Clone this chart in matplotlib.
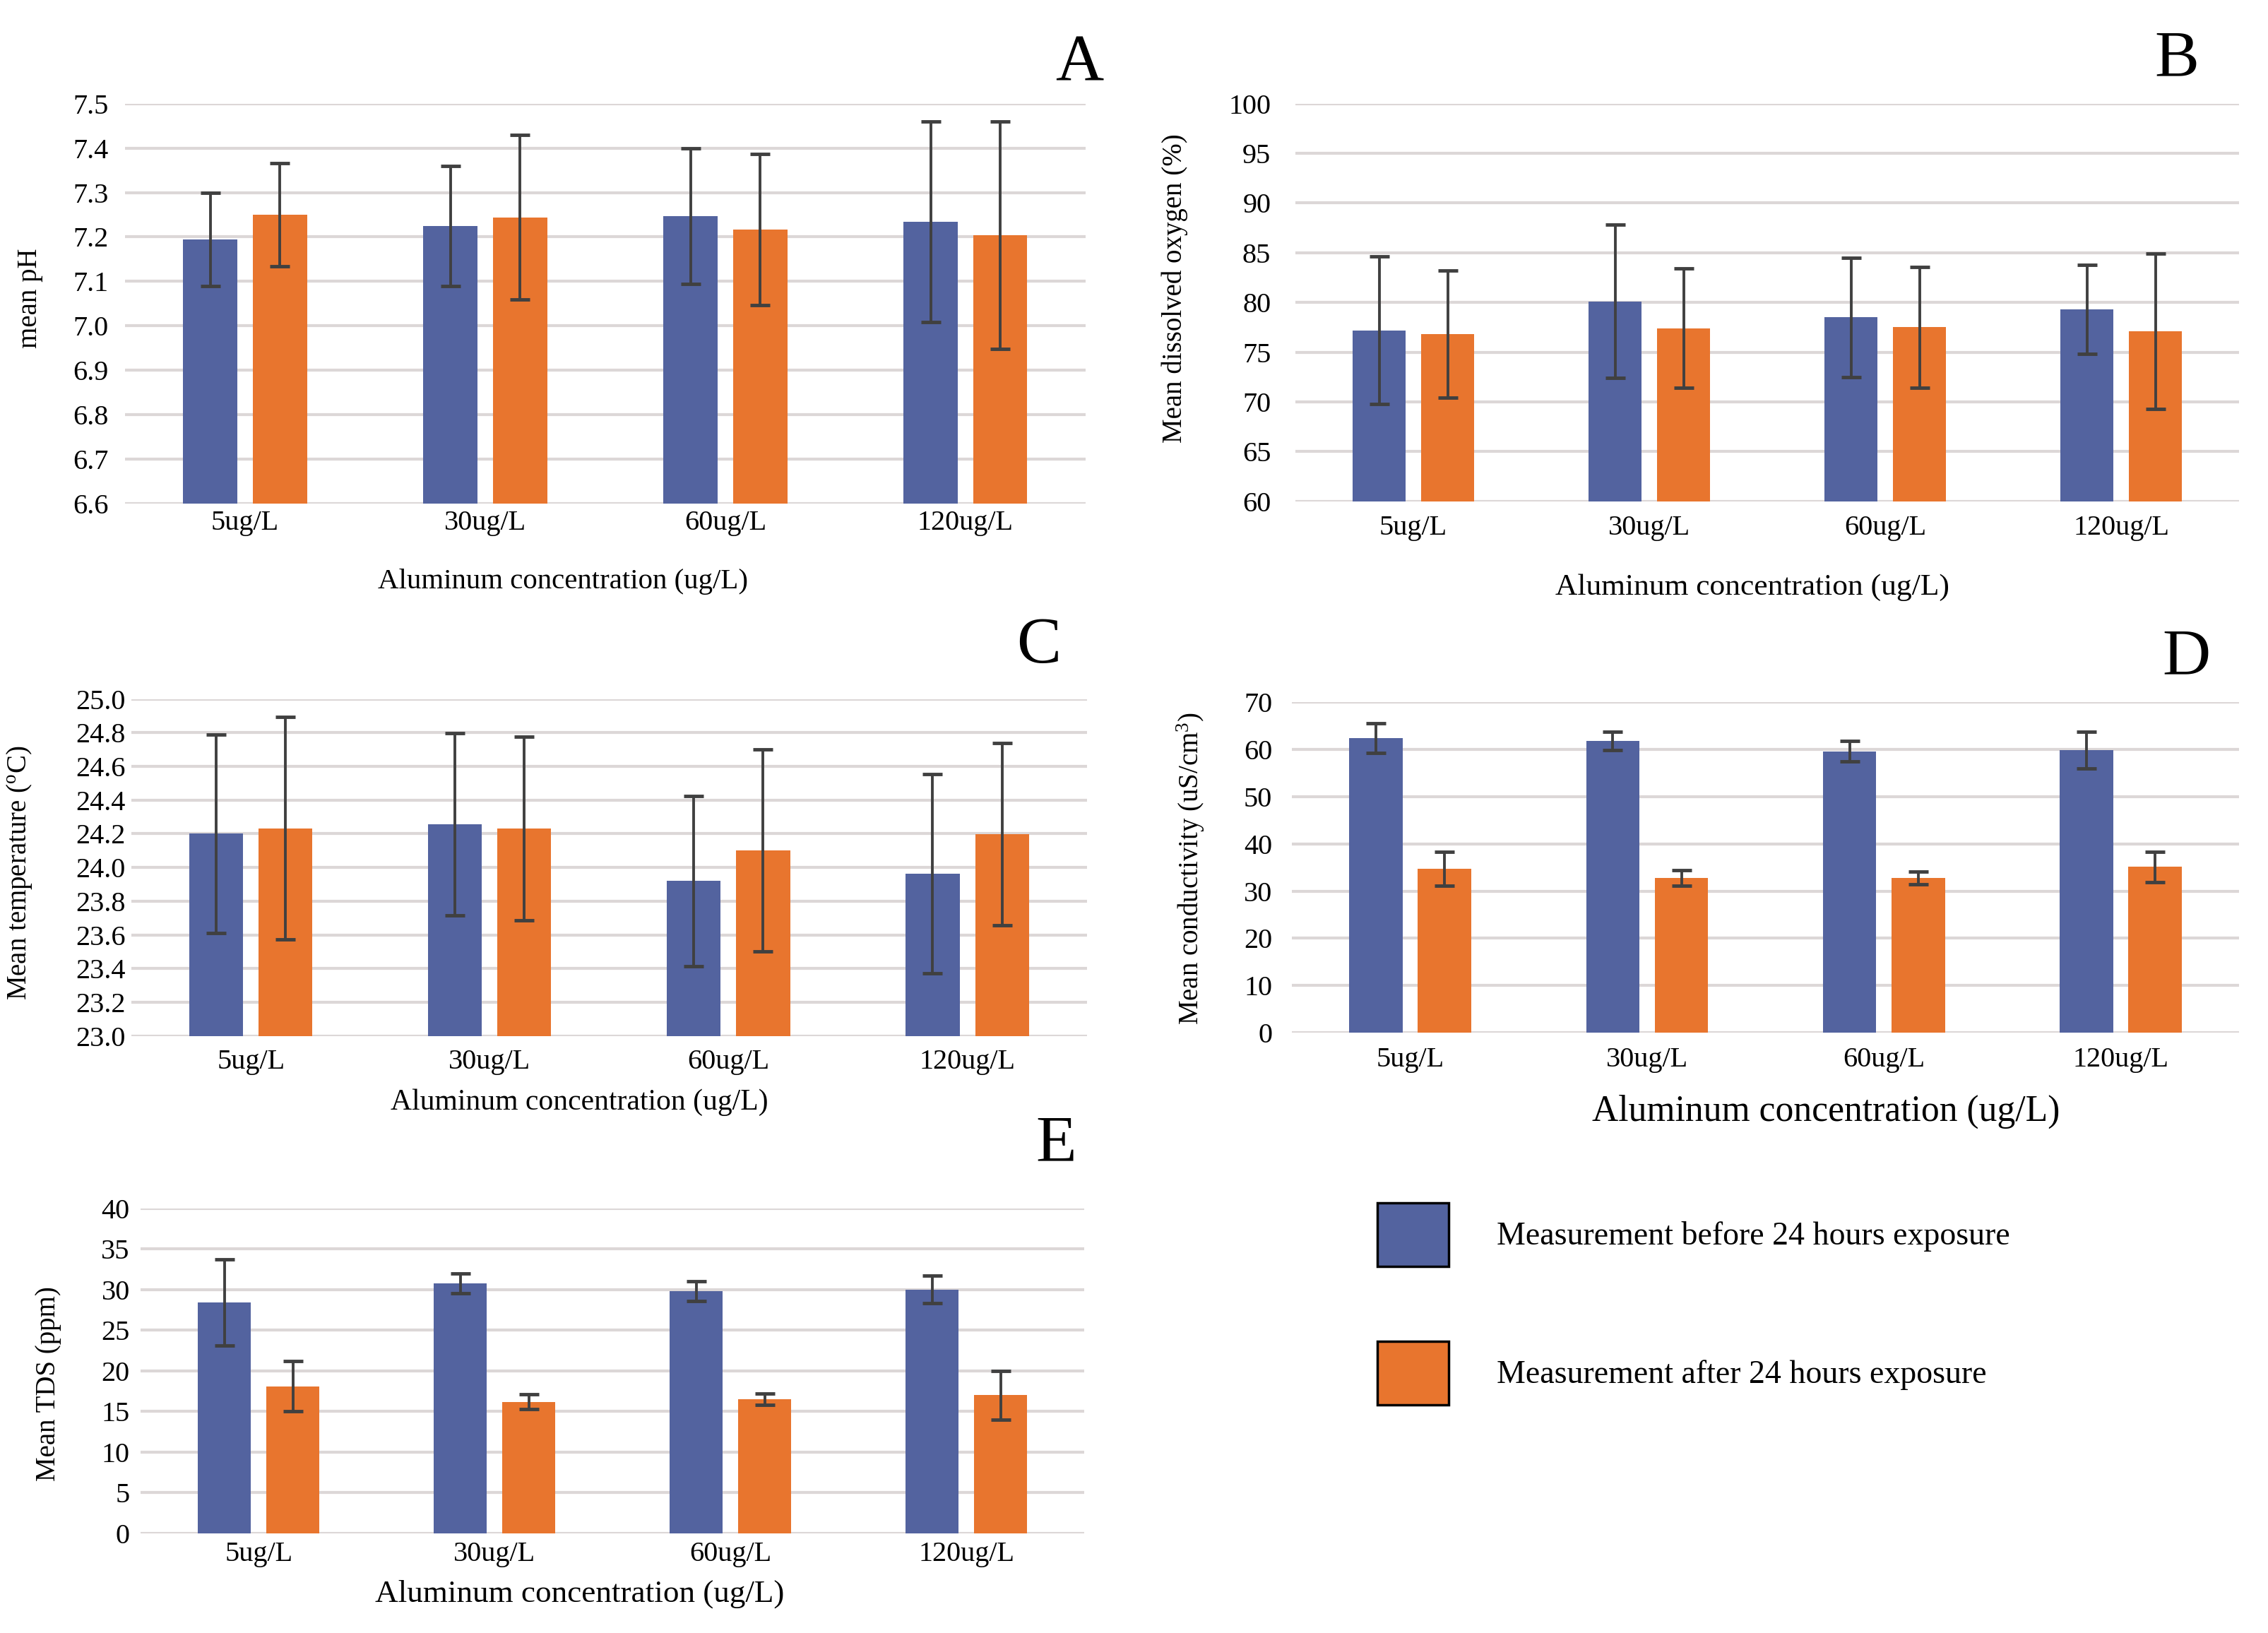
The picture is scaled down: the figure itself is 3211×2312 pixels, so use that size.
import matplotlib
matplotlib.use('Agg')
import matplotlib.pyplot as plt
from matplotlib.patches import Patch
import numpy as np

plt.rcParams['font.family'] = ['Liberation Serif', 'DejaVu Serif']
plt.rcParams['mathtext.fontset'] = 'custom'
plt.rcParams['mathtext.rm'] = 'Liberation Serif'
plt.rcParams['mathtext.it'] = 'Liberation Serif:italic'

# ---------------- data ----------------
categories = ['5ug/L', '30ug/L', '60ug/L', '120ug/L']
series_labels = ['Measurement before 24 hours exposure',
                 'Measurement after 24 hours exposure']
xlabel_text = 'Aluminum concentration (ug/L)'

ph_before = [7.195, 7.224, 7.247, 7.234]
ph_before_err = [0.105, 0.135, 0.153, 0.226]
ph_after = [7.250, 7.244, 7.217, 7.204]
ph_after_err = [0.116, 0.185, 0.170, 0.256]

do_before = [77.2, 80.1, 78.5, 79.3]
do_before_err = [7.4, 7.7, 6.0, 4.5]
do_after = [76.8, 77.4, 77.5, 77.1]
do_after_err = [6.4, 6.0, 6.1, 7.85]

temp_before = [24.200, 24.255, 23.920, 23.963]
temp_before_err = [0.59, 0.54, 0.505, 0.59]
temp_after = [24.233, 24.233, 24.102, 24.198]
temp_after_err = [0.66, 0.545, 0.60, 0.54]

cond_before = [62.4, 61.8, 59.6, 59.9]
cond_before_err = [3.2, 2.0, 2.2, 3.9]
cond_after = [34.7, 32.8, 32.8, 35.1]
cond_after_err = [3.6, 1.6, 1.3, 3.2]

tds_before = [28.4, 30.8, 29.8, 30.0]
tds_before_err = [5.3, 1.2, 1.23, 1.7]
tds_after = [18.1, 16.2, 16.5, 17.0]
tds_after_err = [3.1, 0.93, 0.70, 3.0]

# ---------------- style ----------------
BLUE = '#53639f'
ORANGE = '#e8752e'
ERR = '#404040'
GRID = '#dcd7d7'

fig = plt.figure(figsize=(32.12, 23.12), dpi=100)

panels = [
    dict(letter='A', rect=[0.0551, 0.6918, 0.4234, 0.2447], pos=(0.4757, 0.9511),
         data=(ph_before, ph_before_err, ph_after, ph_after_err),
         ylim=(6.6, 7.5), step=0.1, fmt='{:.1f}', ylabel='mean pH',
         ylab_xy=(-0.085, 0.513), ypad=17, xpad=7, xl_xy=(0.456, -0.164), xl_fs=29.4),
    dict(letter='B', rect=[0.5710, 0.6931, 0.4160, 0.2434], pos=(0.9595, 0.9537),
         data=(do_before, do_before_err, do_after, do_after_err),
         ylim=(60, 100), step=5, fmt='{:.0f}', ylabel='Mean dissolved oxygen (%)',
         ylab_xy=(-0.114, 0.536), ypad=25, xpad=14, xl_xy=(0.484, -0.182), xl_fs=31.3),
    dict(letter='C', rect=[0.0580, 0.3656, 0.4210, 0.2064], pos=(0.4577, 0.5943),
         data=(temp_before, temp_before_err, temp_after, temp_after_err),
         ylim=(23.0, 25.0), step=0.2, fmt='{:.1f}',
         ylabel='Mean temperature ($^{\\mathrm{o}}$C)',
         ylab_xy=(-0.102, 0.484), ypad=6, xpad=13, xl_xy=(0.469, -0.156), xl_fs=30),
    dict(letter='D', rect=[0.5694, 0.3676, 0.4176, 0.2024], pos=(0.9636, 0.5870),
         data=(cond_before, cond_before_err, cond_after, cond_after_err),
         ylim=(0, 70), step=10, fmt='{:.0f}',
         ylabel='Mean conductivity (uS/cm$^{3}$)',
         ylab_xy=(-0.090, 0.496), ypad=20, xpad=14, xl_xy=(0.564, -0.188), xl_fs=37.2),
    dict(letter='E', rect=[0.0620, 0.0610, 0.4160, 0.1990], pos=(0.4655, 0.2894),
         data=(tds_before, tds_before_err, tds_after, tds_after_err),
         ylim=(0, 40), step=5, fmt='{:.0f}', ylabel='Mean TDS (ppm)',
         ylab_xy=(-0.084, 0.46), ypad=11, xpad=8, xl_xy=(0.465, -0.142), xl_fs=32.5),
]

x = np.arange(len(categories))
w = 0.225
off = 0.145

for p in panels:
    ax = fig.add_axes(p['rect'])
    before, be, after, ae = p['data']
    ax.bar(x - off, before, w, color=BLUE, zorder=2)
    ax.bar(x + off, after, w, color=ORANGE, zorder=2)
    for xs, vals, errs in ((x - off, before, be), (x + off, after, ae)):
        ax.errorbar(xs, vals, yerr=errs, fmt='none', ecolor=ERR, elinewidth=2.8,
                    capsize=10, capthick=3.5, zorder=3)
    lo, hi = p['ylim']
    ax.set_xlim(-0.5, len(categories) - 0.5)
    ax.set_ylim(lo, hi)
    ticks = np.arange(lo, hi + p['step'] / 2, p['step'])
    ax.set_yticks(ticks)
    ax.set_yticklabels([p['fmt'].format(t) for t in ticks])
    ax.set_xticks(x)
    ax.set_xticklabels(categories)
    ax.yaxis.grid(True, color=GRID, linewidth=3)
    ax.set_axisbelow(True)
    for s in ax.spines.values():
        s.set_visible(False)
    ax.tick_params(axis='both', length=0, labelsize=29)
    ax.tick_params(axis='y', pad=p['ypad'])
    ax.tick_params(axis='x', pad=p['xpad'])
    ax.set_xlabel(xlabel_text, fontsize=p['xl_fs'])
    ax.xaxis.set_label_coords(*p['xl_xy'])
    ax.set_ylabel(p['ylabel'], fontsize=28)
    ax.yaxis.set_label_coords(*p['ylab_xy'])
    fig.text(p['pos'][0], p['pos'][1], p['letter'], fontsize=68,
             ha='center', va='baseline')

handles = [Patch(facecolor=BLUE, edgecolor='black', linewidth=2.5),
           Patch(facecolor=ORANGE, edgecolor='black', linewidth=2.5)]
fig.legend(handles, series_labels, loc='upper left', bbox_to_anchor=(0.607, 0.2635),
           frameon=False, fontsize=33, handlelength=2.2, handleheight=2.64,
           labelspacing=2.33, handletextpad=1.5, borderpad=0, borderaxespad=0)

fig.savefig('out.png', dpi=100, facecolor='white')
